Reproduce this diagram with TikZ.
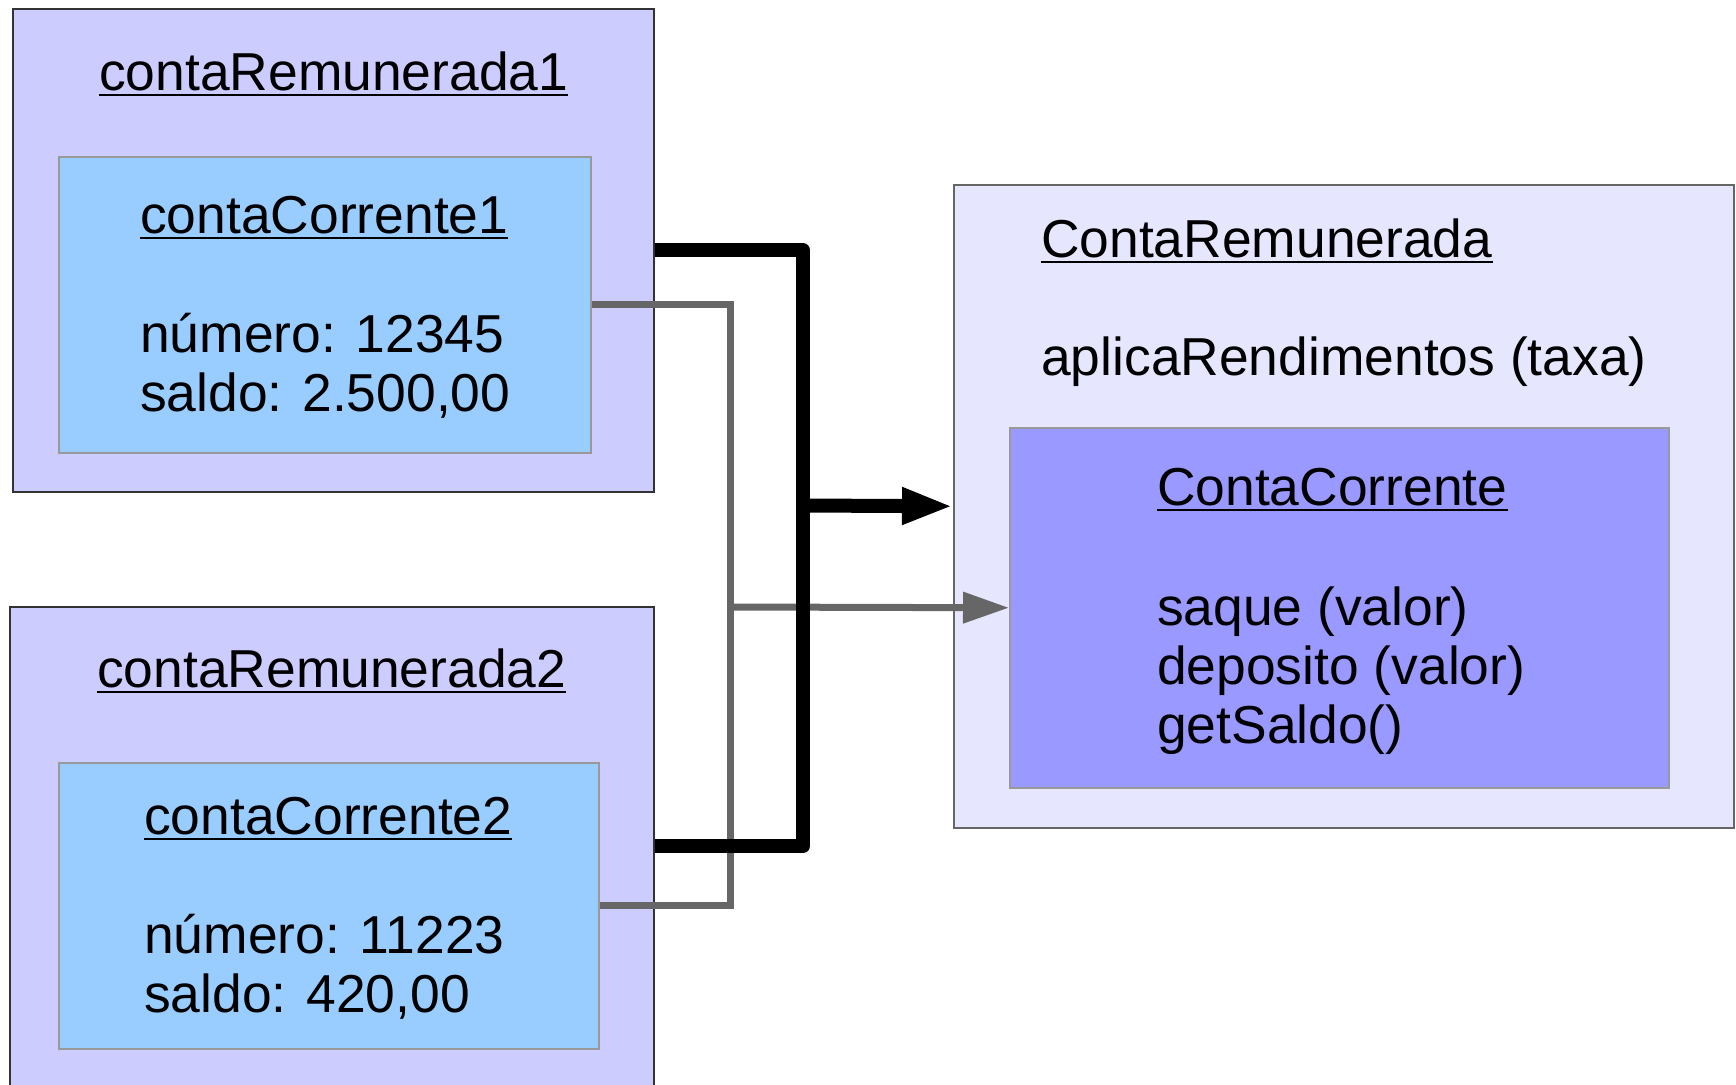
\documentclass[tikz,border=0pt]{standalone}
\usepackage{fontspec}
\setmainfont{Liberation Sans}
\usetikzlibrary{arrows.meta,calc}
\definecolor{outerfill}{HTML}{CCCCFF}
\definecolor{innerfill}{HTML}{99CCFF}
\definecolor{rightfill}{HTML}{E6E6FF}
\definecolor{rinnerfill}{HTML}{9999FF}
\definecolor{conngray}{HTML}{666666}
\tikzset{
  outerbox/.style={draw=black!80, line width=1.5pt, fill=outerfill, anchor=north west, inner sep=0pt},
  innerbox/.style={draw=black!40, line width=1.5pt, fill=innerfill, anchor=north west, inner sep=0pt},
  rightbox/.style={draw=black!60, line width=1.5pt, fill=rightfill, anchor=north west, inner sep=0pt},
  rinnerbox/.style={draw=black!40, line width=1.5pt, fill=rinnerfill, anchor=north west, inner sep=0pt},
  txt/.style={anchor=base west, inner sep=0pt, font=\fontsize{53.4pt}{60pt}\selectfont},
  ul/.style={line width=2.8pt},
  blk/.style={line width=14pt, line join=round},
  blkarrow/.style={line width=14pt, -{Triangle[length=51pt,width=34pt]}},
  gry/.style={line width=7pt, draw=conngray},
  gryarrow/.style={line width=7pt, draw=conngray, fill=conngray, -{Triangle[length=46pt,width=30pt]}},
}
\begin{document}
\begin{tikzpicture}[x=1pt,y=-1pt]
\useasboundingbox (0,0) rectangle (1736,1084);
\clip (0,0) rectangle (1736,1084);
% boxes
\node[outerbox, minimum width=641pt, minimum height=483pt] (r1) at (12,8) {};
\node[innerbox, minimum width=532pt, minimum height=296pt] (c1) at (58,156) {};
\node[outerbox, minimum width=644pt, minimum height=494pt] (r2) at (9,606) {};
\node[innerbox, minimum width=540pt, minimum height=286pt] (c2) at (58,762) {};
\node[rightbox, minimum width=780pt, minimum height=643pt] (rc) at (953,184) {};
\node[rinnerbox, minimum width=659pt, minimum height=360pt] (cc) at (1009,427) {};
% texts
\node[txt] (t1) at (99,90) {contaRemunerada1};
\draw[ul] ([yshift=-5pt]t1.base west) -- ([yshift=-5pt]t1.base east);
\node[txt] (t2) at (140,233) {contaCorrente1};
\draw[ul] ([yshift=-5pt]t2.base west) -- ([yshift=-5pt]t2.base east);
\node[txt] (t3) at (140,352) {número: 12345};
\node[txt] (t4) at (140,411) {saldo: 2.500,00};
\node[txt] (t5) at (97,687) {contaRemunerada2};
\draw[ul] ([yshift=-5pt]t5.base west) -- ([yshift=-5pt]t5.base east);
\node[txt] (t6) at (144,834) {contaCorrente2};
\draw[ul] ([yshift=-5pt]t6.base west) -- ([yshift=-5pt]t6.base east);
\node[txt] (t7) at (144,953) {número: 11223};
\node[txt] (t8) at (144,1012) {saldo: 420,00};
\node[txt] (t9) at (1041,257) {ContaRemunerada};
\draw[ul] ([yshift=-5pt]t9.base west) -- ([yshift=-5pt]t9.base east);
\node[txt] (t10) at (1041,375) {aplicaRendimentos (taxa)};
\node[txt] (t11) at (1157,505) {ContaCorrente};
\draw[ul] ([yshift=-5pt]t11.base west) -- ([yshift=-5pt]t11.base east);
\node[txt] (t12) at (1157,625) {saque (valor)};
\node[txt] (t13) at (1157,684) {deposito (valor)};
\node[txt] (t14) at (1157,743) {getSaldo()};
% connectors
\coordinate (gx) at (730,607);
\coordinate (bx) at (803,505.5);
\draw[gry] (c1.east) -| (gx) |- (c2.east);
\draw[gryarrow] (gx) -- (cc.west);
\draw[blk] (r1.east) -| (bx) |- ([yshift=-240pt]r2.north east);
\draw[blkarrow] (bx) -- (rc.west);
\end{tikzpicture}
\end{document}
